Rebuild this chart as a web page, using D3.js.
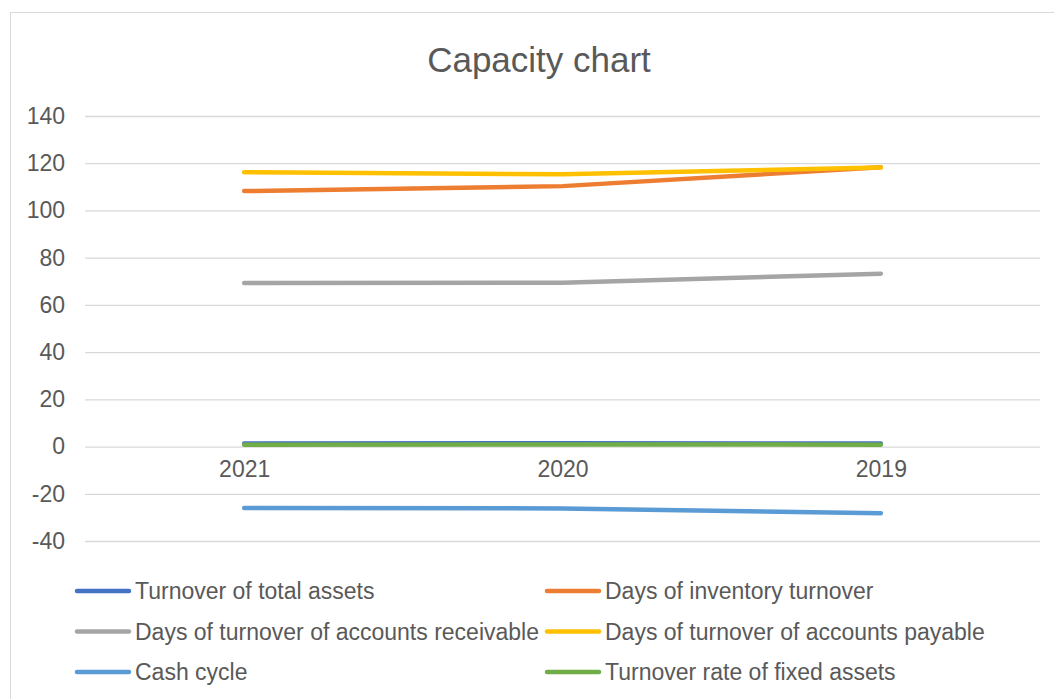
<!DOCTYPE html>
<html>
<head>
<meta charset="utf-8">
<script src="https://cdn.jsdelivr.net/npm/d3@7"></script>
<style>
	body { margin: 0; background: #fff; }
	text { font-family: "Liberation Sans", Arial, sans-serif; fill: #595959; }
</style>
</head>
<body>
<script>
// categories, in the order they appear on the x axis
var years = ["2021", "2020", "2019"];

var seriesNames = [
	"Turnover of total assets",
	"Days of inventory turnover",
	"Days of turnover of accounts receivable",
	"Days of turnover of accounts payable",
	"Cash cycle",
	"Turnover rate of fixed assets"
];

var totalAssets = [1.3, 1.4, 1.3];
var inventoryDays = [108.2, 110.3, 118.3];
var receivableDays = [69.3, 69.4, 73.2];
var payableDays = [116.2, 115.3, 118.2];
var cashCycle = [-26.0, -26.2, -28.2];
var fixedAssets = [0.8, 0.9, 0.8];

var yTicks = [-40, -20, 0, 20, 40, 60, 80, 100, 120, 140];

var Colors = ["#4472C4", "#ED7D31", "#A5A5A5", "#FFC000", "#5B9BD5", "#70AD47"];

var series = [totalAssets, inventoryDays, receivableDays, payableDays, cashCycle, fixedAssets]
	.map(function(values, i) {
		return { name: seriesNames[i], color: Colors[i], values: values };
	});

var width = 1054, height = 699;
var plot = { left: 85, right: 1040, top: 116, bottom: 541 };

var svg = d3.select("body").append("svg")
	.attr("width", width)
	.attr("height", height);

// chart area border
svg.append("rect")
	.attr("x", 10.5).attr("y", 12.5)
	.attr("width", 1200).attr("height", 900)
	.attr("fill", "#fff")
	.attr("stroke", "#d9d9d9");

svg.append("text")
	.attr("x", 539).attr("y", 72)
	.attr("text-anchor", "middle")
	.style("font-size", "35px")
	.text("Capacity chart");

var x = d3.scalePoint()
	.domain(years)
	.range([plot.left, plot.right])
	.padding(0.5);

var y = d3.scaleLinear()
	.domain([-40, 140])
	.range([plot.bottom, plot.top]);

// gridlines + y labels (plain hyphen for negatives, like the original)
var yAxis = d3.axisLeft(y)
	.tickValues(yTicks)
	.tickSize(-(plot.right - plot.left))
	.tickPadding(20)
	.tickFormat(function(d) { return String(d); });

svg.append("g")
	.attr("class", "y-axis")
	.attr("transform", "translate(" + plot.left + ",0)")
	.call(yAxis)
	.call(function(g) {
		g.select(".domain").remove();
		g.selectAll("line").attr("stroke", "#d9d9d9").attr("stroke-width", 1.3);
		g.selectAll("text").style("font-size", "23px").attr("fill", "#595959");
	});

// x labels sit under the zero line
var xAxis = d3.axisBottom(x).tickSize(0).tickPadding(14);
svg.append("g")
	.attr("class", "x-axis")
	.attr("transform", "translate(0," + y(0) + ")")
	.call(xAxis)
	.call(function(g) {
		g.select(".domain").remove();
		g.selectAll("text").style("font-size", "23px").attr("fill", "#595959");
	});

var line = d3.line()
	.x(function(d, i) { return x(years[i]); })
	.y(function(d) { return y(d); });

svg.append("g").selectAll("path")
	.data(series)
	.enter().append("path")
		.attr("d", function(d) { return line(d.values); })
		.attr("fill", "none")
		.attr("stroke", function(d) { return d.color; })
		.attr("stroke-width", 4.5)
		.attr("stroke-linecap", "round")
		.attr("stroke-linejoin", "round");

// legend, two columns
var legend = svg.append("g").selectAll("g")
	.data(series)
	.enter().append("g")
		.attr("transform", function(d, i) {
			var col = i % 2, row = Math.floor(i / 2);
			return "translate(" + (col ? 547 : 77) + "," + (591 + row * 40.5) + ")";
		});

legend.append("line")
	.attr("x1", 0).attr("x2", 52)
	.attr("stroke", function(d) { return d.color; })
	.attr("stroke-width", 4.5)
	.attr("stroke-linecap", "round");

legend.append("text")
	.attr("x", 58).attr("y", 8)
	.style("font-size", "23px")
	.text(function(d) { return d.name; });
</script>
</body>
</html>
